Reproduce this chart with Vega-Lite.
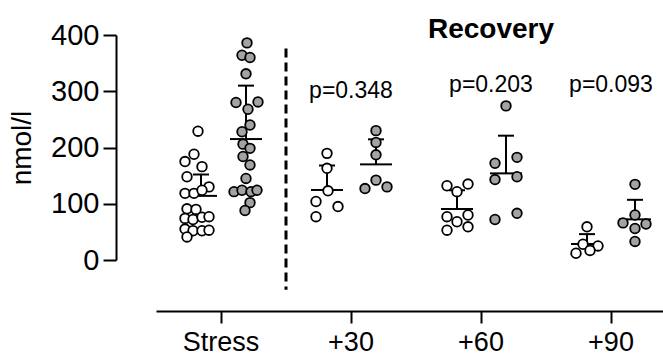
{
  "$schema": "https://vega.github.io/schema/vega-lite/v6.json",
  "width": 507,
  "height": 225,
  "autosize": {"type": "none"},
  "padding": {"left": 156, "top": 35, "right": 0, "bottom": 97},
  "config": {"view": {"stroke": null}, "font": "Liberation Sans"},
  "datasets": {
    "points": [
      {"time": "Stress", "group": "white", "value": 229, "jitter": -23},
      {"time": "Stress", "group": "white", "value": 188, "jitter": -27},
      {"time": "Stress", "group": "white", "value": 175, "jitter": -36},
      {"time": "Stress", "group": "white", "value": 166, "jitter": -19},
      {"time": "Stress", "group": "white", "value": 148, "jitter": -34},
      {"time": "Stress", "group": "white", "value": 130, "jitter": -12},
      {"time": "Stress", "group": "white", "value": 118.5, "jitter": -36},
      {"time": "Stress", "group": "white", "value": 118.5, "jitter": -27},
      {"time": "Stress", "group": "white", "value": 124, "jitter": -19},
      {"time": "Stress", "group": "white", "value": 91, "jitter": -34},
      {"time": "Stress", "group": "white", "value": 90, "jitter": -25},
      {"time": "Stress", "group": "white", "value": 74, "jitter": -36},
      {"time": "Stress", "group": "white", "value": 72, "jitter": -28},
      {"time": "Stress", "group": "white", "value": 76, "jitter": -19},
      {"time": "Stress", "group": "white", "value": 77, "jitter": -12},
      {"time": "Stress", "group": "white", "value": 55, "jitter": -36},
      {"time": "Stress", "group": "white", "value": 52, "jitter": -28},
      {"time": "Stress", "group": "white", "value": 52, "jitter": -19},
      {"time": "Stress", "group": "white", "value": 53, "jitter": -12},
      {"time": "Stress", "group": "white", "value": 41, "jitter": -34},
      {"time": "Stress", "group": "gray", "value": 386, "jitter": 26},
      {"time": "Stress", "group": "gray", "value": 364, "jitter": 21},
      {"time": "Stress", "group": "gray", "value": 360, "jitter": 29},
      {"time": "Stress", "group": "gray", "value": 331, "jitter": 25},
      {"time": "Stress", "group": "gray", "value": 280, "jitter": 15},
      {"time": "Stress", "group": "gray", "value": 281, "jitter": 37},
      {"time": "Stress", "group": "gray", "value": 268, "jitter": 27},
      {"time": "Stress", "group": "gray", "value": 240, "jitter": 29},
      {"time": "Stress", "group": "gray", "value": 228, "jitter": 21},
      {"time": "Stress", "group": "gray", "value": 206, "jitter": 22},
      {"time": "Stress", "group": "gray", "value": 198.5, "jitter": 29},
      {"time": "Stress", "group": "gray", "value": 184, "jitter": 22},
      {"time": "Stress", "group": "gray", "value": 169, "jitter": 29},
      {"time": "Stress", "group": "gray", "value": 145, "jitter": 25},
      {"time": "Stress", "group": "gray", "value": 121.5, "jitter": 13},
      {"time": "Stress", "group": "gray", "value": 124, "jitter": 21},
      {"time": "Stress", "group": "gray", "value": 121.5, "jitter": 30},
      {"time": "Stress", "group": "gray", "value": 124, "jitter": 36},
      {"time": "Stress", "group": "gray", "value": 102, "jitter": 29},
      {"time": "Stress", "group": "gray", "value": 88, "jitter": 24},
      {"time": "+30", "group": "white", "value": 189.6, "jitter": -24},
      {"time": "+30", "group": "white", "value": 163, "jitter": -24},
      {"time": "+30", "group": "white", "value": 123, "jitter": -23},
      {"time": "+30", "group": "white", "value": 104, "jitter": -35},
      {"time": "+30", "group": "white", "value": 95, "jitter": -13},
      {"time": "+30", "group": "white", "value": 77, "jitter": -35},
      {"time": "+30", "group": "gray", "value": 230, "jitter": 25},
      {"time": "+30", "group": "gray", "value": 209, "jitter": 25},
      {"time": "+30", "group": "gray", "value": 187, "jitter": 25},
      {"time": "+30", "group": "gray", "value": 142, "jitter": 25},
      {"time": "+30", "group": "gray", "value": 127, "jitter": 14},
      {"time": "+30", "group": "gray", "value": 130, "jitter": 36},
      {"time": "+60", "group": "white", "value": 132, "jitter": -34},
      {"time": "+60", "group": "white", "value": 121.5, "jitter": -24},
      {"time": "+60", "group": "white", "value": 135, "jitter": -13},
      {"time": "+60", "group": "white", "value": 77, "jitter": -34},
      {"time": "+60", "group": "white", "value": 68, "jitter": -24},
      {"time": "+60", "group": "white", "value": 80, "jitter": -13},
      {"time": "+60", "group": "white", "value": 53, "jitter": -34},
      {"time": "+60", "group": "white", "value": 59, "jitter": -13},
      {"time": "+60", "group": "gray", "value": 274, "jitter": 25},
      {"time": "+60", "group": "gray", "value": 172, "jitter": 14},
      {"time": "+60", "group": "gray", "value": 182.5, "jitter": 36},
      {"time": "+60", "group": "gray", "value": 143, "jitter": 14},
      {"time": "+60", "group": "gray", "value": 148, "jitter": 36},
      {"time": "+60", "group": "gray", "value": 72, "jitter": 14},
      {"time": "+60", "group": "gray", "value": 83, "jitter": 36},
      {"time": "+90", "group": "white", "value": 59, "jitter": -24},
      {"time": "+90", "group": "white", "value": 28, "jitter": -28},
      {"time": "+90", "group": "white", "value": 25, "jitter": -13},
      {"time": "+90", "group": "white", "value": 17, "jitter": -21},
      {"time": "+90", "group": "white", "value": 12, "jitter": -35},
      {"time": "+90", "group": "gray", "value": 134.5, "jitter": 24},
      {"time": "+90", "group": "gray", "value": 80, "jitter": 24},
      {"time": "+90", "group": "gray", "value": 66, "jitter": 12},
      {"time": "+90", "group": "gray", "value": 64, "jitter": 35},
      {"time": "+90", "group": "gray", "value": 56, "jitter": 24},
      {"time": "+90", "group": "gray", "value": 33, "jitter": 24}
    ],
    "summary": [
      {"time": "Stress", "group": "white", "mean": 114, "upper": 152, "jitter": -20},
      {"time": "Stress", "group": "gray", "mean": 215, "upper": 310, "jitter": 25},
      {"time": "+30", "group": "white", "mean": 124.5, "upper": 168, "jitter": -24},
      {"time": "+30", "group": "gray", "mean": 170, "upper": 214.5, "jitter": 25},
      {"time": "+60", "group": "white", "mean": 90.7, "upper": 124, "jitter": -24},
      {"time": "+60", "group": "gray", "mean": 154, "upper": 221, "jitter": 25},
      {"time": "+90", "group": "white", "mean": 28.4, "upper": 46, "jitter": -24},
      {"time": "+90", "group": "gray", "mean": 72.3, "upper": 107, "jitter": 24}
    ],
    "pvalues": [
      {"time": "+30", "label": "p=0.348", "y": 288, "jitter": 0},
      {"time": "+60", "label": "p=0.203", "y": 298, "jitter": 10},
      {"time": "+90", "label": "p=0.093", "y": 298, "jitter": 0}
    ],
    "heading": [
      {"time": "+60", "label": "Recovery", "y": 395, "jitter": 10}
    ],
    "divider": [
      {"time": "+30", "top": 376, "bottom": -53}
    ]
  },
  "encoding": {
    "x": {
      "field": "time",
      "type": "nominal",
      "sort": ["Stress", "+30", "+60", "+90"],
      "scale": {"domain": ["Stress", "+30", "+60", "+90"], "range": [0, 520], "paddingInner": 0, "paddingOuter": 0},
      "axis": {
        "title": null,
        "offset": 51,
        "domainWidth": 2,
        "domainColor": "black",
        "tickWidth": 2,
        "tickColor": "black",
        "tickSize": 12,
        "labelFontSize": 27,
        "labelColor": "black",
        "labelPadding": 6,
        "labelAngle": 0,
        "labelFont": "Liberation Sans"
      }
    }
  },
  "layer": [
    {
      "data": {"name": "divider"},
      "mark": {"type": "rule", "strokeDash": [9, 5], "strokeWidth": 3, "color": "black"},
      "encoding": {
        "x": {"field": "time", "type": "nominal", "bandPosition": 0},
        "y": {"field": "top", "type": "quantitative"},
        "y2": {"field": "bottom"}
      }
    },
    {
      "data": {"name": "summary"},
      "mark": {"type": "rule", "strokeWidth": 2, "color": "black"},
      "encoding": {
        "xOffset": {"field": "jitter", "type": "quantitative", "scale": {"domain": [-65, 65], "range": [0, 130]}},
        "y": {"field": "mean", "type": "quantitative"},
        "y2": {"field": "upper"}
      }
    },
    {
      "data": {"name": "summary"},
      "mark": {"type": "tick", "size": 32, "thickness": 2, "color": "black", "opacity": 1},
      "encoding": {
        "xOffset": {"field": "jitter", "type": "quantitative"},
        "y": {"field": "mean", "type": "quantitative"}
      }
    },
    {
      "data": {"name": "summary"},
      "mark": {"type": "tick", "size": 16, "thickness": 2, "color": "black", "opacity": 1},
      "encoding": {
        "xOffset": {"field": "jitter", "type": "quantitative"},
        "y": {"field": "upper", "type": "quantitative"}
      }
    },
    {
      "data": {"name": "points"},
      "mark": {"type": "circle", "size": 92, "stroke": "black", "strokeWidth": 1.8, "opacity": 1},
      "encoding": {
        "xOffset": {"field": "jitter", "type": "quantitative"},
        "y": {
          "field": "value",
          "type": "quantitative",
          "scale": {"domain": [0, 400], "nice": false},
          "axis": {
            "title": "nmol/l",
            "values": [0, 100, 200, 300, 400],
            "offset": 40,
            "grid": false,
            "domainWidth": 2,
            "domainColor": "black",
            "tickWidth": 2,
            "tickColor": "black",
            "tickSize": 13,
            "labelFontSize": 29,
            "labelColor": "black",
            "labelPadding": 4,
            "labelFont": "Liberation Sans",
            "titleFont": "Liberation Sans",
            "titleFontSize": 28,
            "titleFontWeight": "normal",
            "titleColor": "black",
            "titlePadding": 14
          }
        },
        "fill": {"field": "group", "type": "nominal", "scale": {"domain": ["white", "gray"], "range": ["#ffffff", "#a3a3a3"]}, "legend": null}
      }
    },
    {
      "data": {"name": "pvalues"},
      "mark": {"type": "text", "fontSize": 23, "baseline": "alphabetic", "align": "center", "color": "black"},
      "encoding": {
        "xOffset": {"field": "jitter", "type": "quantitative"},
        "y": {"field": "y", "type": "quantitative"},
        "text": {"field": "label"}
      }
    },
    {
      "data": {"name": "heading"},
      "mark": {"type": "text", "fontSize": 28, "fontWeight": "bold", "baseline": "alphabetic", "align": "center", "color": "black"},
      "encoding": {
        "xOffset": {"field": "jitter", "type": "quantitative"},
        "y": {"field": "y", "type": "quantitative"},
        "text": {"field": "label"}
      }
    }
  ]
}
